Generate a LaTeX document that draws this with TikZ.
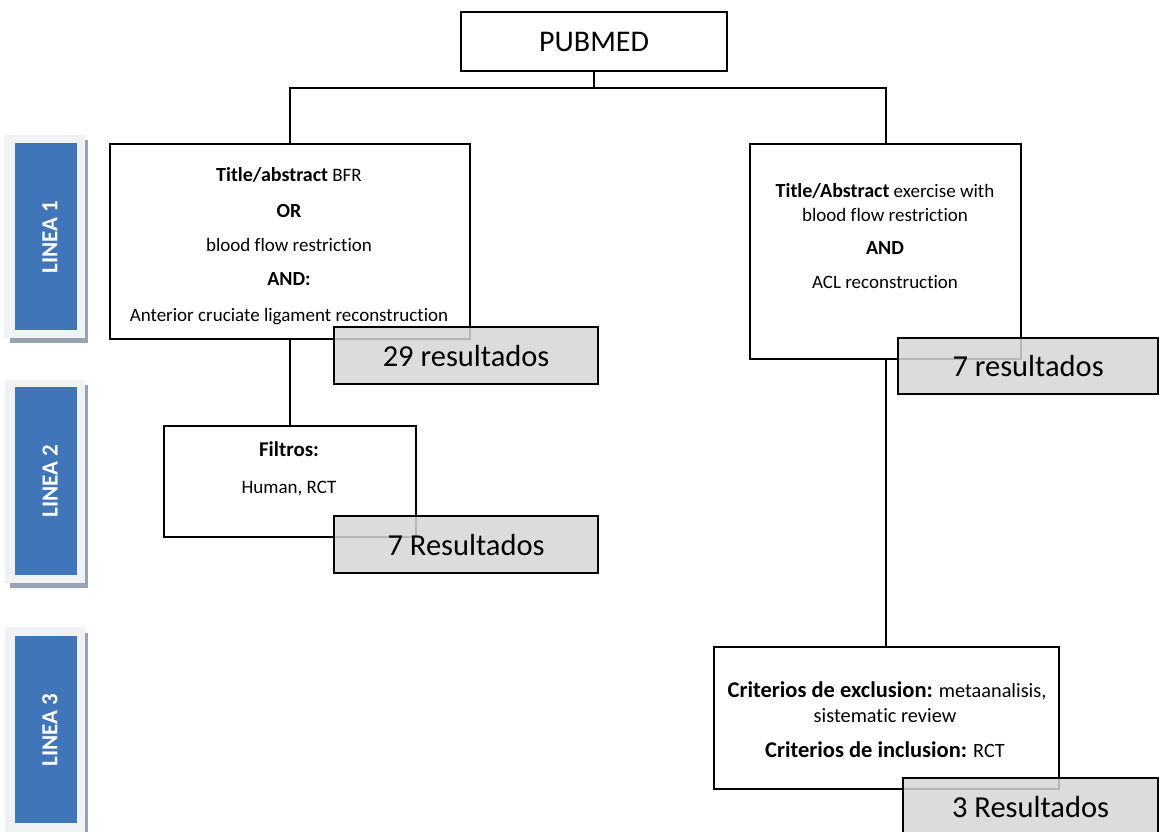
\documentclass[tikz,border=0pt]{standalone}
\usepackage{fontspec}
\setmainfont[Ligatures=NoCommon]{Carlito}
\definecolor{lblue}{HTML}{4175B9}
\definecolor{lframe}{HTML}{F1F2F4}
\definecolor{lshadow}{HTML}{97A2B2}
\definecolor{resgray}{HTML}{D6D6D6}
\begin{document}
\begin{tikzpicture}[x=1pt,y=-1pt,
  box/.style={draw=black, line width=2.2pt, fill=white, inner sep=0pt, anchor=north west},
  res/.style={draw=black, line width=2.2pt, fill=resgray, fill opacity=0.85, text opacity=1,
    inner sep=0pt, anchor=north west, font=\fontsize{30.5}{36}\selectfont},
  txt/.style={anchor=base, inner sep=0pt, font=\fontsize{19}{23}\selectfont},
  ctxt/.style={anchor=base, inner sep=0pt, font=\fontsize{20.3}{24}\selectfont},
  conn/.style={line width=2.2pt},
  bluebox/.style={fill=lblue, inner sep=0pt, anchor=north west},
  lineatxt/.style={rotate=90, text=white, inner sep=0pt, font=\fontsize{23}{27}\selectfont\bfseries}
]
\useasboundingbox (0,0) rectangle (1159,831);
% side labels
\fill[lshadow] (10,140) rectangle (88,343);
\fill[lframe] (4,135) rectangle (85,338);
\node[bluebox, minimum width=62pt, minimum height=187pt] (lb1) at (15,143) {};
\node[lineatxt] (l1) at (50,237) {LINEA 1};
\fill[lshadow] (10,385) rectangle (88,588);
\fill[lframe] (5,380) rectangle (85,583);
\node[bluebox, minimum width=62pt, minimum height=188pt] (lb2) at (15,387) {};
\node[lineatxt] (l2) at (50,481) {LINEA 2};
\fill[lshadow] (10,633) rectangle (88,840);
\fill[lframe] (5,627) rectangle (85,840);
\node[bluebox, minimum width=62pt, minimum height=187pt] (lb3) at (15,636) {};
\node[lineatxt] (l3) at (50,730) {LINEA 3};

% boxes
\node[box, minimum width=266pt, minimum height=59pt, font=\fontsize{30}{36}\selectfont] (pub) at (460,11) {PUBMED};
\node[box, minimum width=360pt, minimum height=195pt] (b1) at (109,143) {};
\node[box, minimum width=271pt, minimum height=215pt] (b2) at (749,143) {};
\node[box, minimum width=252pt, minimum height=111pt] (f) at (163,425) {};
\node[box, minimum width=345pt, minimum height=142pt] (c) at (713,646) {};

% connectors
\coordinate (bus) at (0,88);
\draw[conn] (pub.south) -- (pub.south |- bus);
\draw[conn] (b1.north) -- (b1.north |- bus) -- (b2.north |- bus) -- (b2.north);
\draw[conn] (b1.south) -- (f.north);
\draw[conn] (b2.south) -- (b2.south |- c.north);

% texts
\node[txt] (t1a) at (289,181) {\textbf{\fontsize{20}{24}\selectfont Title/abstract} BFR};
\node[txt] (t1b) at (289,217) {\textbf{\fontsize{20}{24}\selectfont OR}};
\node[txt] (t1c) at (289,251) {blood flow restriction};
\node[txt] (t1d) at (289,285) {\textbf{\fontsize{20}{24}\selectfont AND:}};
\node[txt] (t1e) at (289,321) {Anterior cruciate ligament reconstruction};

\node[txt] (t2a) at (885,197) {\textbf{\fontsize{20}{24}\selectfont Title/Abstract} exercise with};
\node[txt] (t2b) at (885,221) {blood flow restriction};
\node[txt] (t2c) at (885,254) {\textbf{\fontsize{20}{24}\selectfont AND}};
\node[txt] (t2d) at (885,288) {ACL reconstruction};

\node[txt] (t3a) at (289,456) {\textbf{\fontsize{21}{24}\selectfont Filtros:}};
\node[txt] (t3b) at (289,493) {Human, RCT};

\node[ctxt] (t4a) at (887,697) {\textbf{\fontsize{22.5}{26}\selectfont Criterios de exclusion:} metaanalisis,};
\node[ctxt] (t4b) at (885,722) {sistematic review};
\node[ctxt] (t4c) at (885,757) {\textbf{\fontsize{22.5}{26}\selectfont Criterios de inclusion:} RCT};

% results
\node[res, minimum width=264pt, minimum height=57pt] (r1) at (333,326) {29 resultados};
\node[res, minimum width=264pt, minimum height=57pt] (r2) at (333,515) {7 Resultados};
\node[res, minimum width=260pt, minimum height=56pt] (r3) at (897,337) {7 resultados};
\node[res, minimum width=255pt, minimum height=58pt] (r4) at (902,777) {3 Resultados};
\end{tikzpicture}
\end{document}
